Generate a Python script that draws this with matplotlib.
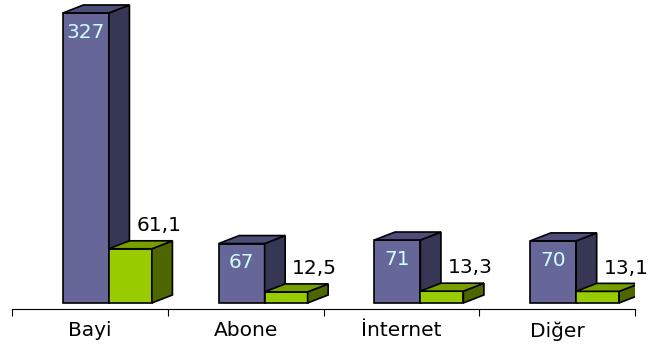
import matplotlib.pyplot as plt
from matplotlib.patches import Polygon

# Satış kanallarına göre değerler
categories = ["Bayi", "Abone", "İnternet", "Diğer"]
adet = [327, 67, 71, 70]
oran = [61.1, 12.5, 13.3, 13.1]
adet_labels = ["327", "67", "71", "70"]
oran_labels = ["61,1", "12,5", "13,3", "13,1"]

plt.rcParams['font.family'] = ['DejaVu Sans']

fig = plt.figure(figsize=(6.5, 3.45), dpi=100)
ax = fig.add_axes([12 / 650, 36 / 345, 623 / 650, 309 / 345])
ax.set_xlim(0, 4)
ax.set_ylim(-6.8, 341.6)

# depth of the 3D effect in data units
DX = 0.132
DY = 9.0


def bar3d(x0, w, h, front, top, side):
    ax.bar(x0, h, width=w, bottom=0, align='edge', color=front,
           edgecolor='black', linewidth=1.2, zorder=2)
    ax.add_patch(Polygon([(x0 + w, 0), (x0 + w + DX, DY), (x0 + w + DX, h + DY), (x0 + w, h)],
                         closed=True, facecolor=side, edgecolor='black', linewidth=1.2, zorder=2))
    ax.add_patch(Polygon([(x0, h), (x0 + DX, h + DY), (x0 + w + DX, h + DY), (x0 + w, h)],
                         closed=True, facecolor=top, edgecolor='black', linewidth=1.2, zorder=2))


for i in range(len(categories)):
    px = i + 0.327
    pw = 0.295
    bar3d(px, pw, adet[i], '#666699', '#4d4d7a', '#363655')
    ax.annotate(adet_labels[i], (px + pw / 2, adet[i]), xytext=(0, -14),
                textcoords='offset points', ha='center', va='center',
                color='#ccffff', fontsize=14.5)

    gx = i + 0.622
    gw = 0.276
    bar3d(gx, gw, oran[i], '#99cc00', '#779f00', '#4d6600')
    ax.annotate(oran_labels[i], (gx + gw + DX / 2, oran[i] + DY), xytext=(-2.5, 11),
                textcoords='offset points', ha='center', va='center',
                color='black', fontsize=14.5)

for s in ['top', 'right', 'left']:
    ax.spines[s].set_visible(False)
ax.spines['bottom'].set_linewidth(0.8)
ax.set_yticks([])
ax.set_xticks([0, 1, 2, 3, 4])
ax.set_xticklabels([])
ax.tick_params(axis='x', length=5, width=0.8, direction='out')
ax.set_xticks([0.5, 1.5, 2.5, 3.5], minor=True)
ax.set_xticklabels(categories, minor=True, fontsize=14.5)
ax.tick_params(axis='x', which='minor', length=0, pad=9)

fig.savefig("out.png", dpi=100)
